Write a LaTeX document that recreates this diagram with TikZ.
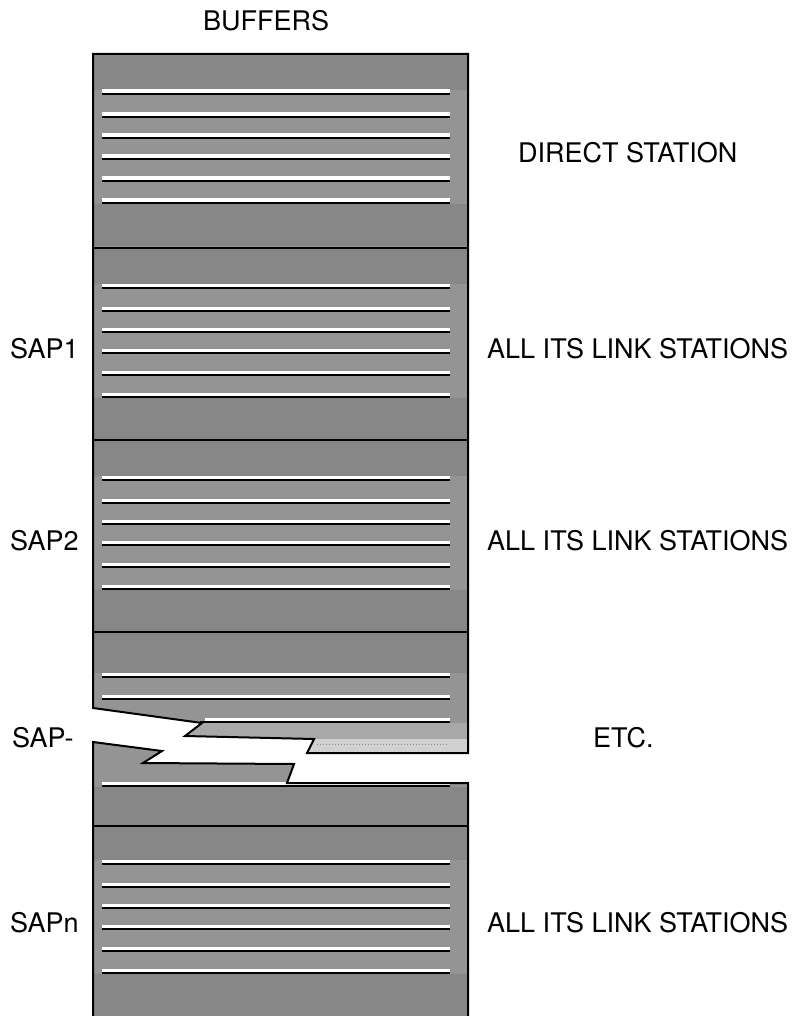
\documentclass[tikz,border=0pt]{standalone}
\usepackage{fontspec}
\setmainfont{TeX Gyre Heros}
\begin{document}
\begin{tikzpicture}[x=1pt,y=-1pt,
  texture/.style={fill=black!42,draw=none},
  darktex/.style={fill=black!47,draw=none},
  lighttex/.style={fill=black!34,draw=none},
  palettex/.style={fill=black!18,draw=none},
  outline/.style={draw=black,line width=2pt,line join=miter},
  divider/.style={draw=black,line width=2pt},
  stripe/.style={draw=black,line width=1.6pt},
  band/.style={fill=white,draw=none},
  lbl/.style={anchor=base west,inner sep=0pt,font=\fontsize{27}{30}\selectfont}]
\useasboundingbox (0,0) rectangle (801,1016);
% shaded bodies
\path[texture] (93,54) -- (468,54) -- (468,753) -- (307,753) -- (314,739) -- (185,736) -- (202,723) -- (93,708) -- cycle;
\path[texture] (93,742) -- (162,751) -- (143,763) -- (294,764) -- (287,783) -- (468,783) -- (468,1016) -- (93,1016) -- cycle;
% slightly darker top and bottom rows of the full sections
\foreach \t in {54,248,440,824}{
  \path[darktex] (94,\t) rectangle (467,\t+36);
  \path[darktex] (94,\t+150) rectangle (467,\t+192);
}
\path[darktex] (94,632) rectangle (467,673);
\path[darktex] (94,787) rectangle (467,826);
% paler rows of the broken section
\path[lighttex] (202,723) -- (468,723) -- (468,739) -- (314,739) -- (185,736) -- cycle;
\path[palettex] (314,739) -- (467,739) -- (467,753) -- (307,753) -- cycle;
% stripes of the full sections
\foreach \t in {54,248,440,824}{
  \foreach \o in {40,63,84,105,127,149}{
    \path[band] (102,\t+\o-4.5) rectangle (450,\t+\o-0.5);
    \draw[stripe] (102,\t+\o) -- (450,\t+\o);
  }
}
% stripes of the broken section
\foreach \y in {677,699}{
  \path[band] (102,\y-4.5) rectangle (450,\y-0.5);
  \draw[stripe] (102,\y) -- (450,\y);
}
\path[band] (205,717.5) rectangle (450,721.5);
\draw[stripe] (200,722) -- (450,722);
\draw[black!45,line width=1pt,dotted] (317,744) -- (447,744);
\path[band] (102,781.5) rectangle (450,785.5);
\draw[stripe] (102,786) -- (450,786);
% dividers
\foreach \y in {248,440,632,826}{
  \draw[divider] (93,\y) -- (468,\y);
}
% outlines
\draw[outline] (93,708) -- (93,54) -- (468,54) -- (468,753) -- (307,753) -- (314,739) -- (185,736) -- (202,723) -- cycle;
\draw[outline] (93,1016) -- (93,742) -- (162,751) -- (143,763) -- (294,764) -- (287,783) -- (468,783) -- (468,1016);
% labels
\node[lbl] (buffers) at (203,31) {BUFFERS};
\node[lbl] (direct) at (518,163) {DIRECT STATION};
\node[lbl] (sap1) at (10,358) {SAP1};
\node[lbl] (link1) at (487,358) {ALL ITS LINK STATIONS};
\node[lbl] (sap2) at (10,550) {SAP2};
\node[lbl] (link2) at (487,550) {ALL ITS LINK STATIONS};
\node[lbl] (sapx) at (12,747) {SAP-};
\node[lbl] (etc) at (593,747) {ETC.};
\node[lbl] (sapn) at (10,932) {SAPn};
\node[lbl] (link3) at (487,932) {ALL ITS LINK STATIONS};
\end{tikzpicture}
\end{document}
